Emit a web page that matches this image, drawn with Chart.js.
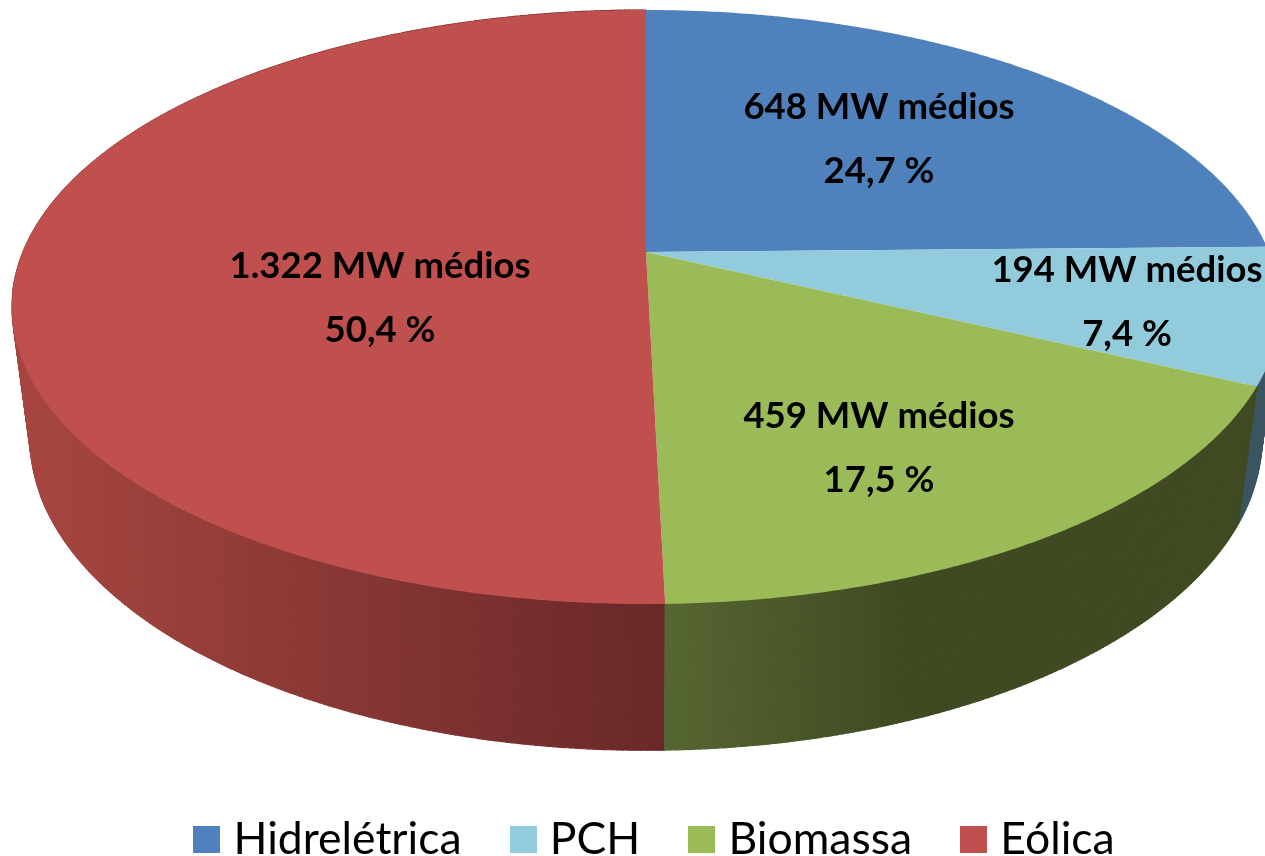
<!DOCTYPE html>
<html>
<head>
<meta charset="utf-8">
<style>
html, body { margin: 0; padding: 0; background: #fff; }
#wrap { width: 1265px; height: 856px; }
</style>
<script src="https://cdn.jsdelivr.net/npm/chart.js@4/dist/chart.umd.min.js"></script>
</head>
<body>
<div id="wrap"><canvas id="pie" width="1265" height="856"></canvas></div>
<script>
const categories = ['Hidrelétrica', 'PCH', 'Biomassa', 'Eólica'];
const mwMedios = [648, 194, 459, 1322];
const percentages = [24.7, 7.4, 17.5, 50.4];

const topColors = ['#4f81bd', '#92cbdc', '#9bbb59', '#c0504d'];
const labelCentres = [[879, 139], [1127, 302], [879, 448], [380, 298]];

// perspective of the tilted disc: z = 0 is the top face, z = 1 the bottom edge
const cam = { cx: 646, cy: 252, rx: 623, ry: -240.15, k: 0.1852, m: 0.0282, depth: 140.3 };
function project(angle, z) {
    const u = Math.sin(angle), v = Math.cos(angle);
    const w = 1 + cam.k * v + cam.m * z;
    return [cam.cx + cam.rx * u / w, (cam.cy + cam.ry * v + cam.depth * z) / w];
}

function wallGradient(ctx, index) {
    const stops = {
        1: [[0, '#3b5560'], [1, '#3b5560']],
        2: [[0, '#566631'], [1, '#3f4a22']],
        3: [[0, '#a64540'], [1, '#692828']]
    }[index];
    const range = index === 2 ? [666, 900] : [30, 666];
    const g = ctx.createLinearGradient(range[0], 0, range[1], 0);
    stops.forEach(s => g.addColorStop(s[0], s[1]));
    return g;
}

function arcPoints(a0, a1, z) {
    const pts = [];
    const n = Math.max(2, Math.ceil(Math.abs(a1 - a0) / 0.008));
    for (let i = 0; i <= n; i++) pts.push(project(a0 + (a1 - a0) * i / n, z));
    return pts;
}

function tracePoly(ctx, pts) {
    ctx.beginPath();
    pts.forEach((p, i) => i ? ctx.lineTo(p[0], p[1]) : ctx.moveTo(p[0], p[1]));
    ctx.closePath();
}

// side wall is filled step by step so the silhouette between both rims is covered
function drawWall(ctx, a0, a1, style) {
    const upper = arcPoints(a0, a1, 0);
    const lower = arcPoints(a0, a1, 1);
    ctx.fillStyle = style;
    ctx.strokeStyle = style;
    ctx.lineWidth = 1.2;
    for (let i = 0; i < upper.length - 1; i++) {
        tracePoly(ctx, [upper[i], upper[i + 1], lower[i + 1], lower[i]]);
        ctx.fill();
        ctx.stroke();
    }
}

// the arcs keep their angles from Chart.js, only the way they are painted changes
const tiltedPie = {
    id: 'tiltedPie',
    beforeDatasetsDraw(chart) {
        const ctx = chart.ctx;
        const arcs = chart.getDatasetMeta(0).data;
        const spans = arcs.map(a => [a.startAngle + Math.PI / 2, a.endAngle + Math.PI / 2]);
        ctx.save();
        [1, 3, 2].forEach(i => drawWall(ctx, spans[i][0], spans[i][1], wallGradient(ctx, i)));
        spans.forEach((s, i) => {
            tracePoly(ctx, [[cam.cx, cam.cy]].concat(arcPoints(s[0], s[1], 0)));
            ctx.fillStyle = arcs[i].options.backgroundColor;
            ctx.fill();
        });
        ctx.restore();
        return false;
    },
    afterDraw(chart) {
        const ctx = chart.ctx;
        ctx.save();
        ctx.font = 'bold 36.5px Lato';
        ctx.fillStyle = '#000';
        ctx.textAlign = 'center';
        ctx.textBaseline = 'middle';
        mwMedios.forEach((v, i) => {
            const mw = String(v).replace(/\B(?=(\d{3})+$)/g, '.') + ' MW médios';
            const pct = percentages[i].toFixed(1).replace('.', ',') + ' %';
            ctx.fillText(mw, labelCentres[i][0], labelCentres[i][1] - 32);
            ctx.fillText(pct, labelCentres[i][0], labelCentres[i][1] + 32);
        });
        ctx.restore();
    }
};

function swatch(color) {
    const c = document.createElement('canvas');
    c.width = 27;
    c.height = 27;
    const g = c.getContext('2d');
    g.fillStyle = color;
    g.fillRect(0, 0, 27, 27);
    return c;
}

new Chart(document.getElementById('pie'), {
    type: 'pie',
    data: {
        labels: categories,
        datasets: [{ data: mwMedios, backgroundColor: topColors, borderWidth: 0 }]
    },
    options: {
        responsive: false,
        animation: false,
        layout: { padding: { bottom: -16, left: 52 } },
        plugins: {
            tooltip: { enabled: false },
            legend: {
                position: 'bottom',
                labels: {
                    usePointStyle: true,
                    pointStyleWidth: 9,
                    padding: 57,
                    color: '#000',
                    font: { family: 'Lato', size: 44.5 },
                    generateLabels: () => categories.map((text, i) => ({
                        text,
                        index: i,
                        fontColor: '#000',
                        pointStyle: swatch(topColors[i]),
                        lineWidth: 0
                    }))
                }
            }
        }
    },
    plugins: [tiltedPie]
});
</script>
</body>
</html>
